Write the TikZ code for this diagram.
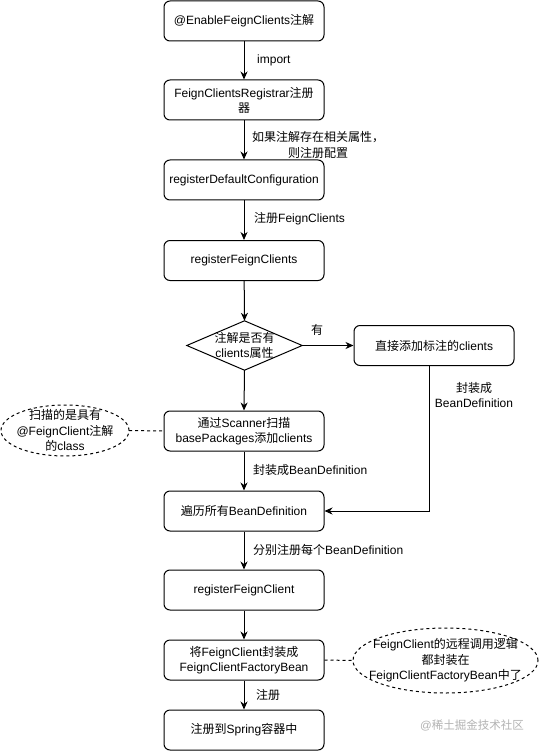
\documentclass[tikz,border=0pt]{standalone}
\usepackage{fontspec}
\setmainfont{Liberation Sans}
\newfontfamily\cjkfont{Noto Sans CJK SC}
\usetikzlibrary{arrows.meta}
\XeTeXinterchartokenstate=1
\newXeTeXintercharclass\cjkc
\newcount\cjkcnt
\cjkcnt="4E00
\loop \XeTeXcharclass\cjkcnt=\cjkc \advance\cjkcnt by 1 \ifnum\cjkcnt<"A000 \repeat
\cjkcnt="3000
\loop \XeTeXcharclass\cjkcnt=\cjkc \advance\cjkcnt by 1 \ifnum\cjkcnt<"3040 \repeat
\cjkcnt="FF00
\loop \XeTeXcharclass\cjkcnt=\cjkc \advance\cjkcnt by 1 \ifnum\cjkcnt<"FF60 \repeat
\XeTeXinterchartoks 0 \cjkc = {\cjkfont}
\XeTeXinterchartoks 4095 \cjkc = {\cjkfont}
\XeTeXinterchartoks \cjkc 0 = {\rmfamily}
\XeTeXinterchartoks \cjkc 4095 = {\rmfamily}
\tikzset{
  box/.style={draw, line width=1pt, rounded corners=6pt, minimum width=160pt, minimum height=40pt,
    align=center, inner sep=2pt, font=\fontsize{12}{15}\selectfont},
  plain/.style={minimum width=#1, align=center, inner sep=0pt, font=\fontsize{12}{15.5}\selectfont},
  lbl/.style={inner sep=0pt, align=center, font=\fontsize{12}{15.5}\selectfont},
  arr/.style={line width=1pt, -{Stealth[length=8pt,width=7pt,inset=2.5pt]}},
  dashline/.style={line width=1pt, dashed},
}
\begin{document}
\begin{tikzpicture}[x=1pt,y=-1pt]
\useasboundingbox (0,0) rectangle (539,751);
\node[box] (b1) at (244,21) {@EnableFeignClients注解};
\node[box] (b2) at (244,100) {FeignClientsRegistrar注册\\器};
\node[box] (b3) at (244,180) {registerDefaultConfiguration};
\node[box] (b4) at (244,260.5) {registerFeignClients};
\node[plain=115pt, minimum height=49pt] (d) at (244.5,345.5) {注解是否有\\clients属性};
\draw[line width=1pt] (d.north) -- (d.east) -- (d.south) -- (d.west) -- cycle;
\node[box] (r) at (434,345.5) {直接添加标注的clients};
\node[box] (s) at (244,431) {通过Scanner扫描\\basePackages添加clients};
\node[plain=128pt, minimum height=51pt] (e1) at (65,430.5) {扫描的是具有\\@FeignClient注解\\的class};
\draw[dashline] (e1.center) ellipse [x radius=64pt, y radius=25.5pt];
\node[box] (t) at (244,511) {遍历所有BeanDefinition};
\node[box] (u) at (244,590) {registerFeignClient};
\node[box] (v) at (244,660) {将FeignClient封装成\\FeignClientFactoryBean};
\node[plain=185pt, minimum height=65pt] (e2) at (445.5,660.5) {FeignClient的远程调用逻辑\\都封装在\\FeignClientFactoryBean中了};
\draw[dashline] (e2.center) ellipse [x radius=92.5pt, y radius=32.5pt];
\node[box] (w) at (244,730) {注册到Spring容器中};

\draw[arr] (b1) -- (b2);
\draw[arr] (b2) -- (b3);
\draw[arr] (b3) -- (b4);
\draw[arr] (b4) -- (d.north);
\draw[arr] (d.east) -- (r.west);
\draw[arr] (d.south) -- (s.north);
\draw[arr] (s) -- (t);
\draw[arr] ([xshift=-5pt]r.south) |- (t.east);
\draw[arr] (t) -- (u);
\draw[arr] (u) -- (v);
\draw[arr] (v) -- (w);
\draw[dashline] (e1.east) -- (s.west);
\draw[dashline] (v.east) -- (e2.west);

\node[lbl, anchor=west] (l1) at (257,60) {import};
\node[lbl] (l2) at (318,145) {如果注解存在相关属性，\\则注册配置};
\node[lbl, anchor=west] (l3) at (254,219) {注册FeignClients};
\node[lbl] (l4) at (317,330) {有};
\node[lbl] (l5) at (474,395) {封装成\\BeanDefinition};
\node[lbl, anchor=west] (l6) at (253,470) {封装成BeanDefinition};
\node[lbl, anchor=west] (l7) at (253,550) {分别注册每个BeanDefinition};
\node[lbl, anchor=west] (l8) at (256,695) {注册};
\node[lbl, text=black!30, font=\fontsize{11.5}{14}\selectfont] (wm) at (472,725) {@稀土掘金技术社区};
\end{tikzpicture}
\end{document}
